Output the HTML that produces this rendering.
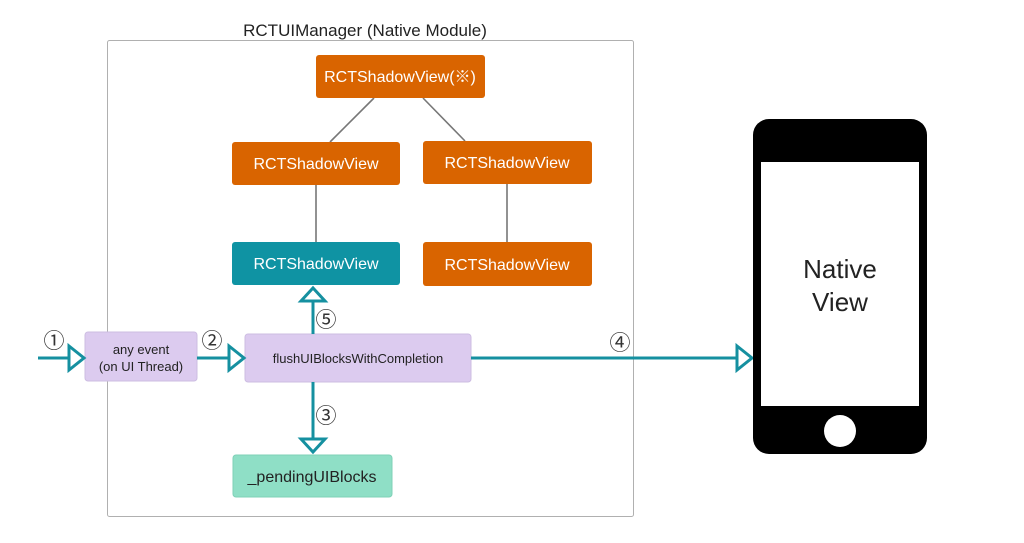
<!DOCTYPE html>
<html><head><meta charset="utf-8"><style>
body{margin:0;background:#fff;}
svg text{font-family:"Liberation Sans","Noto Sans CJK JP",sans-serif;}
</style></head><body>
<svg width="1024" height="538" xmlns="http://www.w3.org/2000/svg">
<rect x="0" y="0" width="1024" height="538" fill="#fff"/>
<rect x="107.5" y="40.5" width="526" height="476" fill="none" stroke="#b0b0b0" stroke-width="1" rx="2"/>
<text x="365" y="36" font-size="17" text-anchor="middle" fill="#222">RCTUIManager (Native Module)</text>
<g stroke="#777" stroke-width="1.6">
<line x1="374" y1="98" x2="330" y2="142"/>
<line x1="423" y1="98" x2="465" y2="141"/>
<line x1="316" y1="185" x2="316" y2="242"/>
<line x1="507" y1="184" x2="507" y2="242"/>
</g>
<g fill="#d96400">
<rect x="316" y="55" width="169" height="43" rx="3"/>
<rect x="232" y="142" width="168" height="43" rx="3"/>
<rect x="423" y="141" width="169" height="43" rx="3"/>
<rect x="423" y="242" width="169" height="44" rx="3"/>
</g>
<rect x="232" y="242" width="168" height="43" rx="3" fill="#0f93a3"/>
<g fill="#fff" font-size="16" text-anchor="middle">
<text x="400" y="82">RCTShadowView(※)</text>
<text x="316" y="169">RCTShadowView</text>
<text x="507" y="168">RCTShadowView</text>
<text x="316" y="269">RCTShadowView</text>
<text x="507" y="270">RCTShadowView</text>
</g>
<rect x="85" y="332" width="112" height="49" rx="3" fill="#dccbef" stroke="#cdbde2"/>
<rect x="245" y="334" width="226" height="48" rx="3" fill="#dccbef" stroke="#cdbde2"/>
<rect x="233" y="455" width="159" height="42" rx="3" fill="#8fdfc6" stroke="#7fd0b7"/>
<g fill="#222" text-anchor="middle">
<text x="141" y="354" font-size="13">any event</text>
<text x="141" y="371" font-size="13">(on UI Thread)</text>
<text x="358" y="363" font-size="13">flushUIBlocksWithCompletion</text>
<text x="312" y="482" font-size="16">_pendingUIBlocks</text>
</g>
<g stroke="#1590a0" stroke-width="3" fill="none">
<line x1="38" y1="358" x2="68" y2="358"/>
<polygon points="69,346 84,358 69,370" fill="#fff"/>
<line x1="197" y1="358" x2="228" y2="358"/>
<polygon points="229,346 244,358 229,370" fill="#fff"/>
<line x1="471" y1="358" x2="736" y2="358"/>
<polygon points="737,346 752,358 737,370" fill="#fff"/>
<line x1="313" y1="334" x2="313" y2="302"/>
<polygon points="301,301 313,288 325,301" fill="#fff"/>
<line x1="313" y1="382" x2="313" y2="438"/>
<polygon points="301,439 313,452 325,439" fill="#fff"/>
</g>
<g fill="#333" font-size="21" text-anchor="middle">
<text x="54" y="348">①</text>
<text x="212" y="348">②</text>
<text x="326" y="327">⑤</text>
<text x="326" y="423">③</text>
<text x="620" y="350">④</text>
</g>
<rect x="753" y="119" width="174" height="335" rx="16" fill="#000"/>
<rect x="761" y="162" width="158" height="244" fill="#fff"/>
<circle cx="840" cy="431" r="16" fill="#fff"/>
<g fill="#222" font-size="26" text-anchor="middle">
<text x="840" y="278">Native</text>
<text x="840" y="311">View</text>
</g>
</svg>
</body></html>
